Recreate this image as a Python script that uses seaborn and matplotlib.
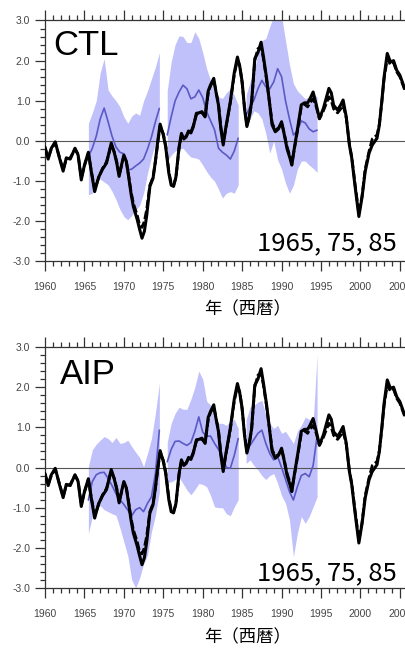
import numpy as np
import seaborn as sns
import matplotlib.pyplot as plt
from matplotlib.ticker import MultipleLocator, FormatStrFormatter

sns.set_style("ticks")
plt.rcParams['font.family'] = ['Liberation Sans', 'Noto Sans CJK JP', 'DejaVu Sans']

# --- observed index (two nearly identical records) ---
obs_years = [1960.0, 1960.4, 1960.8, 1961.3, 1961.8, 1962.3, 1962.7, 1963.2, 1963.8, 1964.2,
             1964.6, 1965.0, 1965.5, 1965.9, 1966.3, 1966.8, 1967.3, 1967.8, 1968.1, 1968.4,
             1968.8, 1969.1, 1969.4, 1969.7, 1970.0, 1970.3, 1970.6, 1970.9, 1971.2, 1971.7,
             1972.0, 1972.3, 1972.6, 1972.9, 1973.3, 1973.7, 1974.0, 1974.3, 1974.6, 1975.0,
             1975.3, 1975.7, 1976.0, 1976.3, 1976.6, 1977.0, 1977.3, 1977.6, 1977.9, 1978.2,
             1978.5, 1978.8, 1979.2, 1979.5, 1979.9, 1980.3, 1980.7, 1981.0, 1981.4, 1981.7,
             1982.0, 1982.3, 1982.6, 1982.9, 1983.5, 1984.0, 1984.4, 1984.7, 1985.0, 1985.3,
             1985.6, 1985.9, 1986.2, 1986.6, 1987.0, 1987.4, 1987.7, 1988.1, 1988.5, 1988.8,
             1989.2, 1989.6, 1990.0, 1990.3, 1990.7, 1991.1, 1991.3, 1991.6, 1992.1, 1992.5,
             1992.9, 1993.3, 1993.6, 1994.0, 1994.4, 1994.8, 1995.3, 1996.0, 1996.3, 1996.6,
             1997.1, 1997.5, 1997.8, 1998.2, 1998.6, 1998.9, 1999.3, 1999.8, 2000.2, 2000.6,
             2001.1, 2001.5, 2002.1, 2002.4, 2002.7, 2003.0, 2003.4, 2003.8, 2004.2, 2004.6,
             2005.0, 2005.6]
obs_a = [-0.15, -0.45, -0.18, -0.02, -0.40, -0.75, -0.42, -0.45, -0.18, -0.35,
         -0.97, -0.60, -0.28, -0.80, -1.26, -0.90, -0.70, -0.55, -0.30, -0.05,
         -0.30, -0.55, -0.88, -0.60, -0.35, -0.50, -0.88, -1.30, -1.63, -1.96,
         -2.20, -2.42, -2.25, -1.85, -1.13, -0.93, -0.50, 0.00, 0.42, 0.15,
         -0.14, -0.80, -1.10, -1.13, -0.90, -0.15, 0.19, 0.05, 0.10, 0.25,
         0.20, 0.35, 0.69, 0.70, 0.73, 0.60, 1.25, 1.40, 1.56, 1.20,
         0.89, 0.30, -0.10, 0.30, 0.98, 1.70, 2.09, 1.85, 1.47, 0.80,
         0.36, 0.60, 0.97, 2.05, 2.20, 2.46, 2.10, 1.56, 0.90, 0.40,
         0.23, 0.30, 0.48, 0.20, -0.20, -0.45, -0.60, -0.20, 0.40, 0.90,
         0.95, 0.95, 1.05, 1.22, 0.90, 0.56, 0.81, 1.31, 1.20, 0.89,
         0.77, 0.90, 1.02, 0.60, -0.10, -0.43, -1.10, -1.88, -1.40, -0.76,
         -0.30, -0.10, 0.07, 0.40, 0.97, 1.60, 2.18, 1.97, 2.00, 1.76,
         1.64, 1.31]
obs_b = [-0.18, -0.42, -0.20, -0.05, -0.38, -0.72, -0.45, -0.42, -0.20, -0.33,
         -0.92, -0.62, -0.30, -0.78, -1.20, -0.92, -0.68, -0.52, -0.32, -0.08,
         -0.28, -0.52, -0.85, -0.62, -0.38, -0.48, -0.85, -1.25, -1.55, -1.85,
         -2.10, -2.15, -2.00, -1.70, -1.10, -0.90, -0.52, -0.05, 0.38, 0.18,
         -0.10, -0.75, -1.05, -1.10, -0.92, -0.18, 0.15, 0.08, 0.12, 0.22,
         0.22, 0.38, 0.65, 0.72, 0.70, 0.62, 1.20, 1.38, 1.50, 1.22,
         0.92, 0.35, -0.05, 0.28, 0.95, 1.65, 2.02, 1.88, 1.45, 0.85,
         0.40, 0.58, 0.95, 2.00, 2.30, 2.35, 2.05, 1.52, 0.92, 0.45,
         0.28, 0.32, 0.45, 0.22, -0.15, -0.40, -0.55, -0.22, 0.35, 0.85,
         0.92, 0.85, 0.95, 1.05, 0.85, 0.55, 0.75, 1.10, 1.00, 0.80,
         0.70, 0.80, 0.90, 0.58, -0.08, -0.40, -1.05, -1.80, -1.38, -0.70,
         -0.25, 0.05, 0.15, 0.42, 0.95, 1.55, 2.05, 1.90, 1.95, 1.72,
         1.60, 1.28]

# --- hindcasts started 1965, 1975, 1985 (ensemble mean and spread) ---
seg1_years = [1965.5, 1966, 1966.5, 1967, 1967.5, 1968, 1968.5, 1969, 1969.5, 1970,
              1970.5, 1971, 1971.5, 1972, 1972.5, 1973, 1973.5, 1974, 1974.5]
seg2_years = [y + 10 for y in seg1_years]
seg3_years = [y + 20 for y in seg1_years]

ctl_mean = [
    [-0.39, -0.18, 0.12, 0.55, 0.82, 0.48, 0.12, -0.15, -0.28, -0.32,
     -0.72, -0.70, -0.62, -0.55, -0.45, -0.20, 0.10, 0.48, 0.81],
    [0.15, 0.60, 1.00, 1.22, 1.39, 1.30, 1.05, 1.10, 1.27, 1.08,
     0.73, 0.50, 0.28, -0.18, -0.28, -0.35, -0.45, -0.25, 0.07],
    [0.65, 0.85, 1.02, 1.30, 1.51, 1.35, 1.30, 1.47, 1.80, 1.60,
     1.00, 0.55, 0.15, 0.25, 0.50, 0.45, 0.30, 0.23, 0.27],
]
ctl_hi = [
    [0.44, 0.70, 1.00, 1.70, 2.05, 1.27, 1.12, 1.00, 0.85, 0.60,
     0.44, 0.62, 0.70, 0.64, 1.00, 1.25, 1.55, 1.84, 2.20],
    [1.25, 1.97, 2.40, 2.62, 2.60, 2.45, 2.45, 2.72, 2.55, 2.20,
     1.80, 1.50, 1.22, 1.10, 1.06, 1.20, 1.30, 1.14, 0.89],
    [1.14, 1.47, 1.70, 2.20, 2.50, 2.55, 2.85, 3.10, 3.10, 3.10,
     2.50, 1.90, 1.43, 1.25, 1.15, 1.05, 1.10, 1.18, 1.10],
]
ctl_lo = [
    [-1.34, -1.30, -0.90, -0.95, -1.02, -1.09, -1.25, -1.46, -1.70, -1.88,
     -1.96, -1.85, -1.72, -1.60, -1.30, -0.80, -0.40, -0.05, 0.27],
    [-0.50, -0.35, -0.25, -0.20, -0.18, -0.30, -0.40, -0.42, -0.45, -0.60,
     -0.76, -0.90, -1.00, -1.20, -1.42, -1.30, -1.26, -1.30, -1.09],
    [0.35, 0.55, 0.75, 0.70, 0.55, 0.19, -0.30, 0.00, -0.47, -0.70,
     -1.05, -1.30, -1.10, -0.70, -0.50, -0.50, -0.60, -0.68, -0.78],
]

aip_mean = [
    [-0.81, -0.35, -0.18, -0.13, -0.12, -0.27, -0.45, -0.65, -0.80, -0.92,
     -1.06, -1.20, -1.05, -1.00, -1.10, -0.89, -0.73, -0.15, 0.93],
    [0.14, 0.45, 0.65, 0.66, 0.60, 0.55, 0.62, 0.90, 1.26, 0.88,
     0.78, 0.78, 0.60, 0.45, 0.25, 0.00, -0.02, 0.30, 0.72],
    [0.52, 0.55, 0.70, 0.85, 0.93, 0.60, 0.35, 0.19, 0.27, 0.00,
     -0.30, -0.60, -0.81, -0.48, -0.20, -0.15, -0.23, 0.05, 0.77],
]
aip_hi = [
    [0.02, 0.44, 0.58, 0.68, 0.77, 0.72, 0.62, 0.75, 0.60, 0.62,
     0.68, 0.52, 0.38, 0.25, 0.02, 0.35, 0.72, 1.35, 2.10],
    [0.63, 1.10, 1.35, 1.50, 1.45, 1.45, 1.70, 2.00, 2.40, 2.20,
     1.65, 1.55, 1.30, 1.10, 1.10, 1.05, 1.15, 1.20, 0.97],
    [1.18, 1.50, 1.55, 1.63, 1.67, 1.30, 1.10, 0.97, 1.05, 0.85,
     0.90, 0.75, 0.60, 0.90, 1.05, 1.25, 1.20, 1.10, 2.80],
]
aip_lo = [
    [-1.64, -1.22, -1.00, -0.95, -1.05, -1.10, -1.15, -1.19, -1.50, -1.85,
     -2.20, -2.80, -3.00, -2.75, -2.40, -2.18, -1.60, -1.19, -0.61],
    [-0.36, -0.36, -0.30, -0.25, -0.40, -0.56, -0.68, -0.55, -0.40, -0.42,
     -0.48, -0.70, -0.98, -1.00, -1.00, -1.15, -1.20, -0.98, -0.80],
    [0.10, 0.19, 0.05, -0.06, -0.20, -0.30, -0.20, -0.15, -0.39, -0.70,
     -0.89, -1.30, -2.22, -1.64, -1.22, -1.39, -1.22, -0.98, -0.73],
]

panels = [("CTL", ctl_mean, ctl_hi, ctl_lo), ("AIP", aip_mean, aip_hi, aip_lo)]
seg_years = [seg1_years, seg2_years, seg3_years]

band_color = '#c0c0fa'
mean_color = '#5a5ac6'

W, H = 406, 649
fig = plt.figure(figsize=(W / 100, H / 100), dpi=100)
axes = [fig.add_axes([45 / W, 1 - 261.5 / H, 360 / W, 241 / H]),
        fig.add_axes([45 / W, 1 - 588 / H, 360 / W, 241 / H])]
note_y = [0.048, 0.033]
name_pos = [(0.023, 0.965), (0.042, 0.955)]
xlabel_y = [309, 637]

for i, (ax, (name, mean, hi, lo)) in enumerate(zip(axes, panels)):
    for k in range(3):
        ax.fill_between(seg_years[k], lo[k], hi[k], color=band_color, lw=0, zorder=1)
        sns.lineplot(x=seg_years[k], y=mean[k], ax=ax, color=mean_color, lw=1.2, zorder=3)
    ax.axhline(0, color='#555555', lw=0.8, zorder=2)
    sns.lineplot(x=obs_years, y=obs_b, ax=ax, color='black', lw=2.0,
                 linestyle=(0, (3, 1)), zorder=4)
    sns.lineplot(x=obs_years, y=obs_a, ax=ax, color='black', lw=2.2, zorder=5)

    ax.set_xlim(1960, 2005.65)
    ax.set_ylim(-3, 3)
    ax.xaxis.set_major_locator(MultipleLocator(5))
    ax.xaxis.set_minor_locator(MultipleLocator(1))
    ax.yaxis.set_major_locator(MultipleLocator(1))
    ax.yaxis.set_minor_locator(MultipleLocator(0.2))
    ax.yaxis.set_major_formatter(FormatStrFormatter('%.1f'))
    ax.tick_params(which='both', direction='out', top=True, right=False,
                   color='#333333', width=0.9, labelsize=7.5, labelcolor='#444444')
    ax.tick_params(which='major', length=7)
    ax.tick_params(which='minor', length=3.5)
    ax.tick_params(axis='x', pad=8)
    ax.tick_params(axis='y', pad=3.5)
    for s in ['left', 'top', 'bottom']:
        ax.spines[s].set_color('#333333')
        ax.spines[s].set_linewidth(0.9)
    ax.spines['right'].set_visible(False)
    ax.set_xlabel('')
    ax.set_ylabel('')

    ax.text(name_pos[i][0], name_pos[i][1], name, transform=ax.transAxes, color='black',
            fontsize=25, ha='left', va='top', family='Liberation Sans', zorder=6)
    ax.text(0.978, note_y[i], '1965, 75, 85', transform=ax.transAxes, color='black',
            fontsize=18.5, ha='right', va='baseline', family=['Noto Sans CJK JP', 'DejaVu Sans'],
            zorder=6)
    fig.text(248 / W, 1 - xlabel_y[i] / H, '年（西暦）', fontsize=12.5, ha='center', va='center',
             color='black', family=['Noto Sans CJK JP', 'DejaVu Sans'])

fig.savefig('out.png', dpi=100)
